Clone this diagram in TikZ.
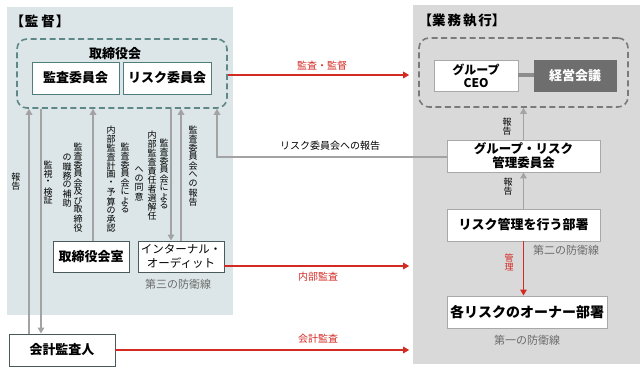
\documentclass[tikz,border=0pt]{standalone}
\usepackage{fontspec}
\setmainfont{Noto Sans CJK JP}
\usetikzlibrary{arrows.meta}
\definecolor{leftbg}{HTML}{DCE6E8}
\definecolor{rightbg}{HTML}{D9D9D9}
\definecolor{tealdash}{HTML}{5E8787}
\definecolor{tealline}{HTML}{4F7D7E}
\definecolor{darkline}{HTML}{4A5A5A}
\definecolor{garrow}{HTML}{A3A3A3}
\definecolor{redc}{HTML}{D42A24}
\definecolor{graytext}{HTML}{6B6B6B}
\definecolor{mtgfill}{HTML}{6E6E6E}
\definecolor{execdash}{HTML}{7A7A7A}
\definecolor{lightborder}{HTML}{A8A8A8}
\definecolor{linkgray}{HTML}{8C8C8C}
\makeatletter
\newcommand{\vtxt}[1]{\vbox{\offinterlineskip\@tfor\vt@c:=#1\do{\vbox to 9pt{\vss\hbox to 1em{\hss\vt@c\hss}\vss}}}}
\makeatother
\tikzset{
  box/.style={draw, fill=white, line width=0.9pt, inner sep=0pt, align=center,
    font=\fontsize{13}{15}\selectfont\bfseries},
  tealbox/.style={box, draw=tealline},
  darkbox/.style={box, draw=darkline},
  graybox/.style={box, draw=lightborder},
  garr/.style={draw=garrow, line width=1.8pt, -{Triangle[length=6pt,width=6.5pt]}},
  rarr/.style={draw=redc, line width=1.8pt, -{Triangle[length=6pt,width=6.5pt]}},
  vlab/.style={anchor=north, inner sep=0pt, font=\fontsize{9}{9}\selectfont},
  rlab/.style={inner sep=0pt, text=redc, font=\fontsize{10}{12}\selectfont},
  linelab/.style={inner sep=0pt, text=graytext, font=\fontsize{11}{13}\selectfont},
  ttl/.style={inner sep=0pt, font=\fontsize{13.5}{15}\selectfont\bfseries},
}
\begin{document}
\begin{tikzpicture}[x=1pt,y=-1pt]
\useasboundingbox (0,0) rectangle (643,371);
% panels
\fill[leftbg] (7,7) rectangle (233,315);
\fill[rightbg] (413,5) rectangle (640,364);
\node[ttl] (t1) at (40,21) {【\kern1pt 監\kern3pt 督\kern1pt 】};
\node[ttl] (t2) at (462,21) {【業\kern2pt 務\kern2pt 執\kern2pt 行】};

% board
\node[draw=tealdash, line width=1.6pt, dash pattern=on 6pt off 3.5pt, rounded corners=10pt,
  minimum width=210pt, minimum height=69pt, inner sep=0pt] (board) at (122,73.5) {};
\node[inner sep=0pt, font=\fontsize{13}{15}\selectfont\bfseries] (boardlbl) at (115,54) {取締役会};
\node[tealbox, minimum width=87pt, minimum height=32pt] (audit) at (75.5,78) {監査委員会};
\node[tealbox, minimum width=88pt, minimum height=32pt] (risk) at (167,78) {リスク委員会};

% left lower boxes
\node[darkbox, minimum width=76pt, minimum height=31pt] (bsec) at (91,256.5) {取締役会室};
\node[darkbox, minimum width=86pt, minimum height=31pt, font=\fontsize{11.5}{14}\selectfont] (ia) at (181,256.5) {インターナル・\\オーディット};
\node[linelab] (l3) at (178,284) {第三の防衛線};
\node[darkbox, minimum width=106pt, minimum height=32pt] (acct) at (62,350) {会計監査人};

% right side
\node[draw=execdash, line width=1.6pt, dash pattern=on 6pt off 3.5pt, rounded corners=10pt,
  minimum width=209pt, minimum height=69pt, inner sep=0pt] (exec) at (523.5,72.5) {};
\node[graybox, minimum width=84pt, minimum height=31pt, font=\fontsize{12}{13}\selectfont\bfseries] (ceo) at (476,75.5) {グループ\\CEO};
\node[box, draw=mtgfill, fill=mtgfill, text=white, minimum width=82pt, minimum height=31pt] (mtg) at (575,75.5) {経営会議};
\draw[linkgray, line width=4pt] (ceo.east) -- (mtg.west);
\node[graybox, minimum width=153pt, minimum height=32pt, font=\fontsize{12.5}{14}\selectfont\bfseries] (grc) at (523.5,156) {グループ・リスク\\管理委員会};
\node[graybox, minimum width=153pt, minimum height=32pt] (rmd) at (523.5,225) {リスク管理を行う部署};
\node[graybox, minimum width=160pt, minimum height=32pt, font=\fontsize{14}{16}\selectfont\bfseries] (own) at (527,312) {各リスクのオーナー部署};
\node[linelab] (l2) at (566,250) {第二の防衛線};
\node[linelab] (l1) at (527,340) {第一の防衛線};

% helper x positions
\coordinate (x29) at (29,0);
\coordinate (x41) at (41,0);
\coordinate (x93) at (93,0);
\coordinate (x171) at (171,0);
\coordinate (x181) at (181,0);
\coordinate (x217) at (217,0);

% gray arrows left
\draw[garr] (acct.north -| x29) -- (board.south -| x29);
\draw[garr] (board.south -| x41) -- (acct.north -| x41);
\draw[garr] (bsec.north -| x93) -- (board.south -| x93);
\draw[garr] (board.south -| x171) -- (ia.north -| x171);
\draw[garr] (ia.north -| x181) -- (board.south -| x181);
\draw[garr] ([yshift=-1pt]grc.west) -- ([yshift=-1pt]grc.west -| x217) -- (board.south -| x217);
\node[inner sep=0pt, font=\fontsize{10}{12}\selectfont] (lrisk) at (330,146) {リスク委員会への報告};

% vertical labels
\node[vlab] (v1) at (16,172) {\vtxt{報告}};
\node[vlab] (v2) at (48,160) {\vtxt{監視・検証}};
\node[vlab] (v3a) at (78,142) {\vtxt{監査委員会及び取締役}};
\node[vlab] (v3b) at (67,153) {\vtxt{の職務の補助}};
\node[vlab] (v4a) at (125,142) {\vtxt{監査委員会による}};
\node[vlab] (v4b) at (111,125) {\vtxt{内部監査計画・予算の承認}};
\node[vlab] (v5a) at (164,138) {\vtxt{監査委員会による}};
\node[vlab] (v5b) at (152,130) {\vtxt{内部監査責任者選解任}};
\node[vlab] (v5c) at (139,165) {\vtxt{への同意}};
\node[vlab] (v6) at (193,125) {\vtxt{監査委員会への報告}};

% right arrows
\draw[garr] (grc.north) -- (exec.south);
\draw[garr] (rmd.north) -- (grc.south);
\draw[rarr] (rmd.south) -- (rmd.south |- own.north);
\node[vlab] (vr1) at (507,117) {\vtxt{報告}};
\node[vlab] (vr2) at (508,177) {\vtxt{報告}};
\node[vlab, text=redc] (vr3) at (509,253) {\vtxt{管理}};

% red horizontal arrows
\draw[rarr, shorten >=9pt] ([yshift=-1.5pt]board.east) -- ([yshift=-1.5pt]board.east -| exec.west);
\node[rlab] (r1) at (322,66) {監査・監督};
\draw[rarr, shorten >=9pt] ([yshift=-9.5pt]ia.east) -- ([yshift=-9.5pt]ia.east -| exec.west);
\node[rlab] (r2) at (318,277) {内部監査};
\draw[rarr, shorten >=9pt] (acct.east) -- (acct.east -| exec.west);
\node[rlab] (r3) at (318,339) {会計監査};
\end{tikzpicture}
\end{document}
